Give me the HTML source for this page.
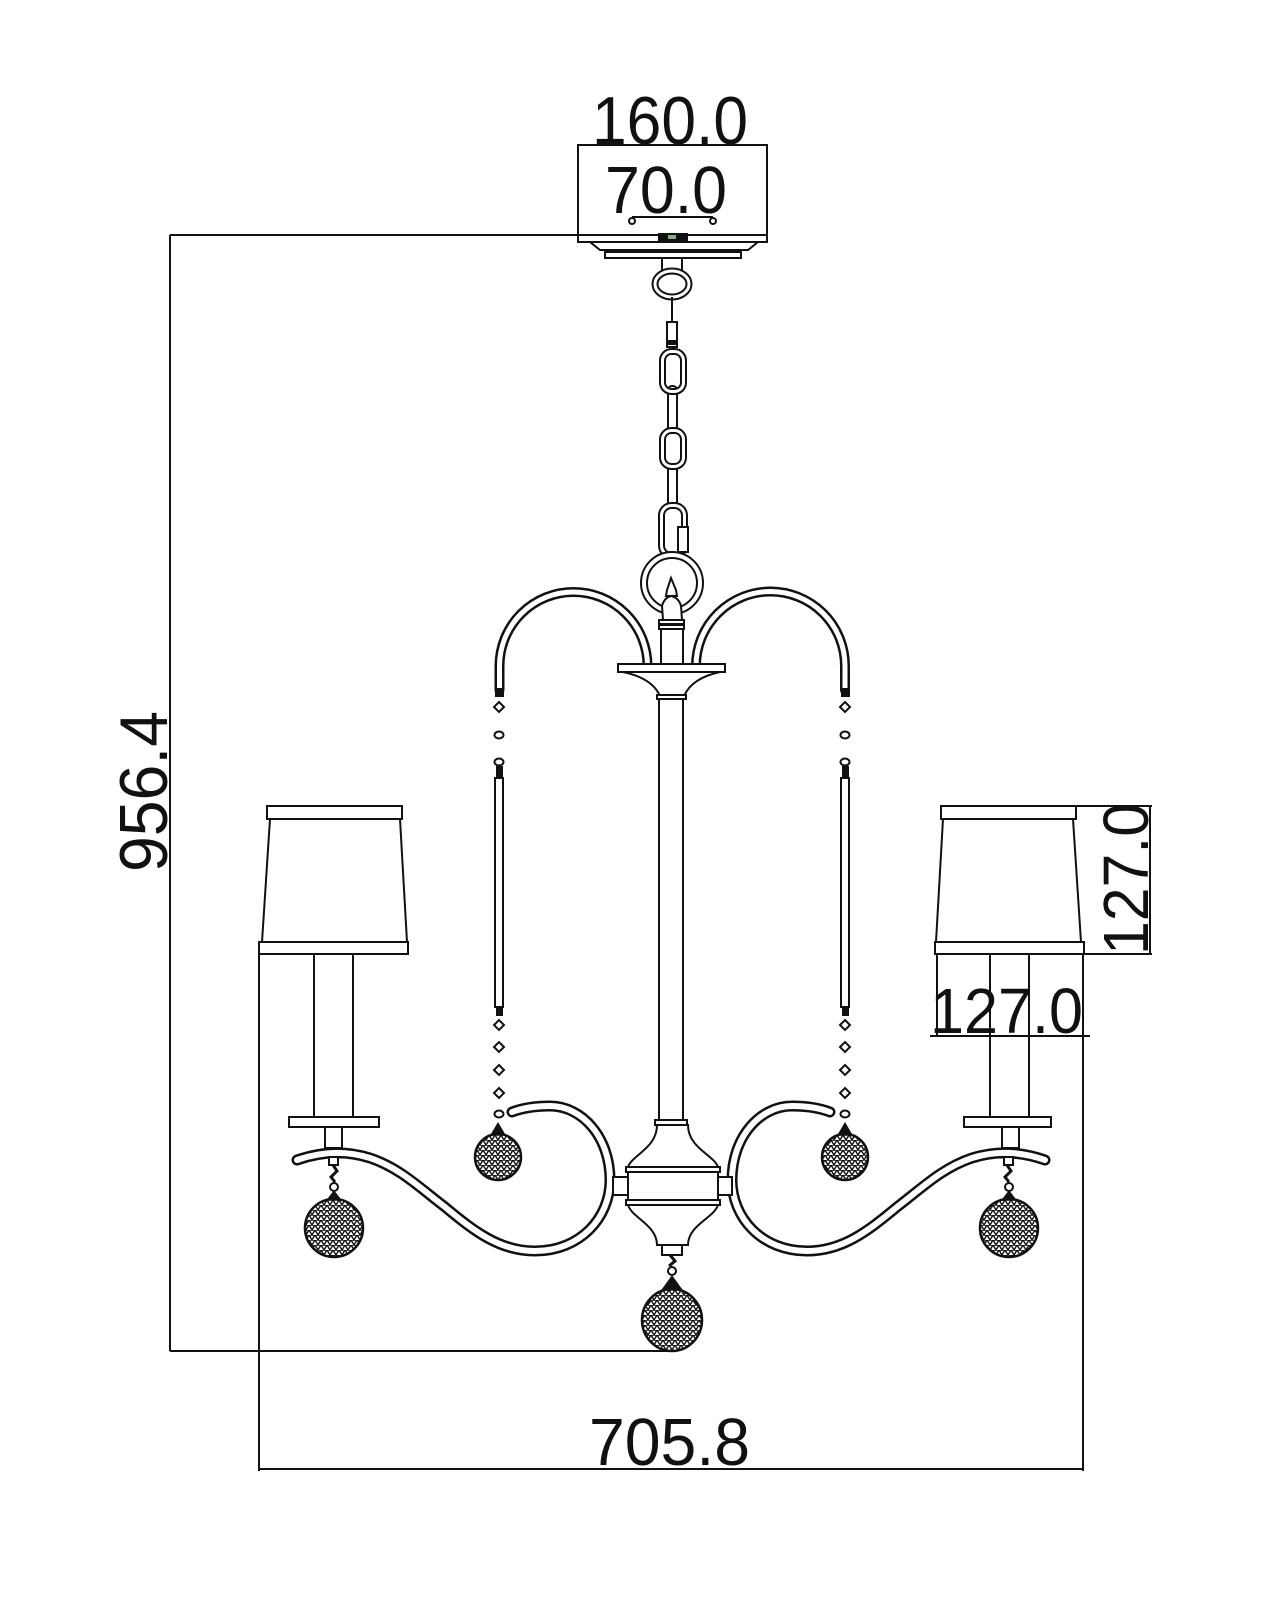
<!DOCTYPE html>
<html>
<head>
<meta charset="utf-8">
<style>
html,body{margin:0;padding:0;background:#fff;}
svg{display:block;}
text{font-family:"Liberation Sans",Arial,sans-serif;fill:#111;}
.l{stroke:#111;stroke-width:2;fill:none;}
.s{stroke:#111;stroke-width:2;fill:#fff;}
.tb{stroke:#111;fill:none;stroke-linecap:round;stroke-linejoin:round;}
.tw{stroke:#fff;fill:none;stroke-linecap:round;stroke-linejoin:round;}
.blk{fill:#111;stroke:#111;stroke-width:1;}
</style>
</head>
<body>
<svg width="1280" height="1600" viewBox="0 0 1280 1600" xmlns="http://www.w3.org/2000/svg">
<defs>
  <pattern id="tri" width="6" height="5" patternUnits="userSpaceOnUse">
    <path d="M0 5 L3 0 L6 5 M0 0 H6" stroke="#111" stroke-width="1.4" fill="none"/>
  </pattern>
</defs>

<!-- ===== Dimension lines ===== -->
<line class="l" x1="170" y1="235" x2="170" y2="1351"/>
<line class="l" x1="170" y1="235" x2="767" y2="235"/>
<line class="l" x1="170" y1="1351" x2="672" y2="1351"/>
<text transform="translate(167,872) rotate(-90)" font-size="68" textLength="161" lengthAdjust="spacingAndGlyphs">956.4</text>

<line class="l" x1="259" y1="942" x2="259" y2="1471"/>
<line class="l" x1="1083" y1="954" x2="1083" y2="1471"/>
<line class="l" x1="259" y1="1469" x2="1083" y2="1469"/>
<text x="589" y="1465" font-size="67" textLength="161" lengthAdjust="spacingAndGlyphs">705.8</text>

<line class="l" x1="1076" y1="806" x2="1152" y2="806"/>
<line class="l" x1="1084" y1="954" x2="1152" y2="954"/>
<line class="l" x1="1150" y1="806" x2="1150" y2="954"/>
<text transform="translate(1148,955) rotate(-90)" font-size="64" textLength="152" lengthAdjust="spacingAndGlyphs">127.0</text>

<line class="l" x1="937" y1="954" x2="937" y2="1036"/>
<line class="l" x1="930" y1="1036" x2="1090" y2="1036"/>

<!-- ===== Canopy ===== -->
<rect class="s" x="578" y="145" width="189" height="97"/>
<line class="l" x1="578" y1="235" x2="767" y2="235"/>
<rect x="658" y="233" width="30" height="8" fill="#111"/>
<rect x="668" y="235" width="8" height="4" fill="#8a8"/>
<polygon class="s" points="590,242 758,242 748,250 600,250"/>
<rect class="s" x="605" y="252" width="136" height="6"/>
<text x="592" y="144" font-size="68" textLength="156" lengthAdjust="spacingAndGlyphs">160.0</text>
<text x="605" y="213" font-size="67" textLength="122" lengthAdjust="spacingAndGlyphs">70.0</text>
<line class="l" x1="632" y1="217" x2="713" y2="217"/>
<circle class="s" cx="632" cy="221" r="3"/>
<circle class="s" cx="713" cy="221" r="3"/>

<!-- ===== Chain ===== -->
<rect class="s" x="662" y="258" width="20" height="14"/>
<ellipse class="tb" cx="672" cy="284" rx="17" ry="13" stroke-width="7"/>
<ellipse class="tw" cx="672" cy="284" rx="17" ry="13" stroke-width="3"/>
<line class="l" x1="672" y1="297" x2="672" y2="322"/>
<rect class="s" x="667" y="322" width="10" height="25"/>
<rect x="667" y="340" width="10" height="5" fill="#111"/>
<rect class="s" x="668" y="386" width="9" height="46" rx="4"/>
<rect class="s" x="668" y="465" width="9" height="42" rx="4"/>
<rect class="tb" x="662.5" y="351.5" width="21" height="40" rx="9" stroke-width="7"/>
<rect class="tw" x="662.5" y="351.5" width="21" height="40" rx="9" stroke-width="3"/>
<rect class="tb" x="662.5" y="430.5" width="21" height="36" rx="9" stroke-width="7"/>
<rect class="tw" x="662.5" y="430.5" width="21" height="36" rx="9" stroke-width="3"/>
<rect class="tb" x="661.5" y="505.5" width="23" height="50" rx="10" stroke-width="7"/>
<rect class="tw" x="661.5" y="505.5" width="23" height="50" rx="10" stroke-width="3"/>
<rect class="s" x="678" y="527" width="10" height="25"/>

<circle class="tb" cx="672" cy="583" r="28" stroke-width="8"/>
<circle class="tw" cx="672" cy="583" r="28" stroke-width="4"/>

<!-- ===== Arches ===== -->
<path class="tb" d="M499.5 690 L499.5 666 A74 74 0 0 1 647.5 666 L647.5 668" stroke-width="10" stroke-linecap="butt"/>
<path class="tw" d="M499.5 690 L499.5 666 A74 74 0 0 1 647.5 666 L647.5 668" stroke-width="5" stroke-linecap="butt"/>
<path class="tb" d="M696 668 L696 666 A74.5 74.5 0 0 1 845 666 L845 690" stroke-width="10" stroke-linecap="butt"/>
<path class="tw" d="M696 668 L696 666 A74.5 74.5 0 0 1 845 666 L845 690" stroke-width="5" stroke-linecap="butt"/>
<rect x="495" y="688" width="9" height="9" fill="#111"/>
<rect x="841" y="688" width="9" height="9" fill="#111"/>

<!-- finial -->
<path class="s" d="M671 578 L667 590 L666 596 L677 596 L676 590 Z"/>
<path class="s" d="M663 620 L662 606 Q664 598 671 596 Q679 598 681 606 L682 620 Z"/>
<rect class="s" x="659" y="620" width="25" height="9"/>
<line x1="659" y1="624.5" x2="684" y2="624.5" stroke="#111" stroke-width="3"/>
<rect class="s" x="661" y="629" width="22" height="35"/>

<rect class="s" x="618" y="664" width="107" height="8"/>
<path class="s" d="M623 672 Q652 678 660 696 L684 696 Q692 678 720 672 Z"/>
<rect class="s" x="657" y="695" width="29" height="4"/>
<rect class="s" x="659" y="699" width="24" height="421"/>

<!-- ===== Pendant chains ===== -->
<g>
  <polygon class="s" points="499,702 504,707 499,712 494,707"/>
  <ellipse class="s" cx="499" cy="735" rx="4.5" ry="3.5"/>
  <ellipse class="s" cx="499" cy="762" rx="4.5" ry="3.5"/>
  <rect x="496" y="766" width="7" height="12" fill="#111"/>
  <rect class="s" x="495" y="778" width="8" height="229"/>
  <rect x="496" y="1007" width="7" height="9" fill="#111"/>
  <polygon class="s" points="499,1020 504,1025 499,1030 494,1025"/>
  <polygon class="s" points="499,1042 504,1047 499,1052 494,1047"/>
  <polygon class="s" points="499,1065 504,1070 499,1075 494,1070"/>
  <polygon class="s" points="499,1088 504,1093 499,1098 494,1093"/>
  <ellipse class="s" cx="499" cy="1114" rx="4.5" ry="3.5"/>
</g>
<g>
  <polygon class="s" points="845,702 850,707 845,712 840,707"/>
  <ellipse class="s" cx="845" cy="735" rx="4.5" ry="3.5"/>
  <ellipse class="s" cx="845" cy="762" rx="4.5" ry="3.5"/>
  <rect x="842" y="766" width="7" height="12" fill="#111"/>
  <rect class="s" x="841" y="778" width="8" height="229"/>
  <rect x="842" y="1007" width="7" height="9" fill="#111"/>
  <polygon class="s" points="845,1020 850,1025 845,1030 840,1025"/>
  <polygon class="s" points="845,1042 850,1047 845,1052 840,1047"/>
  <polygon class="s" points="845,1065 850,1070 845,1075 840,1070"/>
  <polygon class="s" points="845,1088 850,1093 845,1098 840,1093"/>
  <ellipse class="s" cx="845" cy="1114" rx="4.5" ry="3.5"/>
</g>

<!-- ===== Shades and candles ===== -->
<rect class="s" x="267" y="806" width="135" height="13"/>
<polygon class="s" points="270,819 400,819 407,942 262,942"/>
<rect class="s" x="259" y="942" width="149" height="12"/>
<line class="l" x1="314" y1="954" x2="314" y2="1117"/>
<line class="l" x1="353" y1="954" x2="353" y2="1117"/>
<rect class="s" x="289" y="1117" width="90" height="10"/>
<rect class="s" x="325" y="1127" width="17" height="21"/>

<rect class="s" x="941" y="806" width="135" height="13"/>
<polygon class="s" points="943,819 1073,819 1081,942 936,942"/>
<rect class="s" x="935" y="942" width="149" height="12"/>
<line class="l" x1="990" y1="954" x2="990" y2="1117"/>
<line class="l" x1="1029" y1="954" x2="1029" y2="1117"/>
<rect class="s" x="964" y="1117" width="87" height="10"/>
<rect class="s" x="1002" y="1127" width="17" height="21"/>

<text x="930" y="1033" font-size="64" textLength="153" lengthAdjust="spacingAndGlyphs">127.0</text>

<!-- ===== Arms ===== -->
<path class="tb" stroke-width="11" d="M297 1160 C320 1152,345 1150,370 1158 C400 1168,420 1188,445 1207 C475 1232,500 1251,535 1251 C580 1251,610 1218,610 1180 C610 1137,582 1106,550 1106 C533 1106,520 1109,512 1112"/>
<path class="tw" stroke-width="6" d="M297 1160 C320 1152,345 1150,370 1158 C400 1168,420 1188,445 1207 C475 1232,500 1251,535 1251 C580 1251,610 1218,610 1180 C610 1137,582 1106,550 1106 C533 1106,520 1109,512 1112"/>
<path class="tb" stroke-width="11" d="M1045 1160 C1022 1152,997 1150,972 1158 C942 1168,922 1188,897 1207 C867 1232,842 1251,807 1251 C762 1251,732 1218,732 1180 C732 1137,760 1106,792 1106 C809 1106,822 1109,830 1112"/>
<path class="tw" stroke-width="6" d="M1045 1160 C1022 1152,997 1150,972 1158 C942 1168,922 1188,897 1207 C867 1232,842 1251,807 1251 C762 1251,732 1218,732 1180 C732 1137,760 1106,792 1106 C809 1106,822 1109,830 1112"/>

<!-- ===== Central body ===== -->
<rect class="s" x="613" y="1177" width="16" height="18"/>
<rect class="s" x="716" y="1177" width="16" height="18"/>
<rect class="s" x="655" y="1120" width="32" height="5"/>
<path class="s" d="M657 1125 C657 1148,632 1155,628 1167 L718 1167 C714 1155,688 1148,688 1125 Z"/>
<rect class="s" x="626" y="1167" width="94" height="5"/>
<rect class="s" x="628" y="1172" width="90" height="28"/>
<rect class="s" x="626" y="1200" width="94" height="5"/>
<path class="s" d="M628 1205 C632 1218,657 1225,657 1245 L688 1245 C688 1225,714 1218,718 1205 Z"/>
<rect class="s" x="662" y="1245" width="20" height="10"/>

<!-- ===== Crystal balls ===== -->
<polygon class="blk" points="488,1140 498,1123 508,1140"/>
<circle cx="498" cy="1157" r="23" fill="#fff"/>
<circle cx="498" cy="1157" r="23" fill="url(#tri)" stroke="#111" stroke-width="2.5"/>
<polygon class="blk" points="835,1140 845,1123 855,1140"/>
<circle cx="845" cy="1157" r="23" fill="#fff"/>
<circle cx="845" cy="1157" r="23" fill="url(#tri)" stroke="#111" stroke-width="2.5"/>

<rect class="s" x="329" y="1157" width="9" height="8"/>
<path d="M333 1165 L337 1171 L331 1177 L335 1182" stroke="#111" stroke-width="3" fill="none"/>
<circle class="s" cx="334" cy="1187" r="4"/>
<polygon class="blk" points="321,1208 334,1191 347,1208"/>
<circle cx="334" cy="1228" r="29" fill="#fff"/>
<circle cx="334" cy="1228" r="29" fill="url(#tri)" stroke="#111" stroke-width="2.5"/>

<rect class="s" x="1004" y="1157" width="9" height="8"/>
<path d="M1007 1165 L1011 1171 L1005 1177 L1009 1182" stroke="#111" stroke-width="3" fill="none"/>
<circle class="s" cx="1009" cy="1187" r="4"/>
<polygon class="blk" points="996,1208 1009,1191 1022,1208"/>
<circle cx="1009" cy="1228" r="29" fill="#fff"/>
<circle cx="1009" cy="1228" r="29" fill="url(#tri)" stroke="#111" stroke-width="2.5"/>

<path d="M670 1255 L675 1261 L669 1266" stroke="#111" stroke-width="3" fill="none"/>
<circle class="s" cx="672" cy="1271" r="4"/>
<polygon class="blk" points="659,1294 672,1276 685,1294"/>
<ellipse cx="672" cy="1320" rx="30" ry="31" fill="#fff"/>
<ellipse cx="672" cy="1320" rx="30" ry="31" fill="url(#tri)" stroke="#111" stroke-width="2.5"/>
</svg>
</body>
</html>
